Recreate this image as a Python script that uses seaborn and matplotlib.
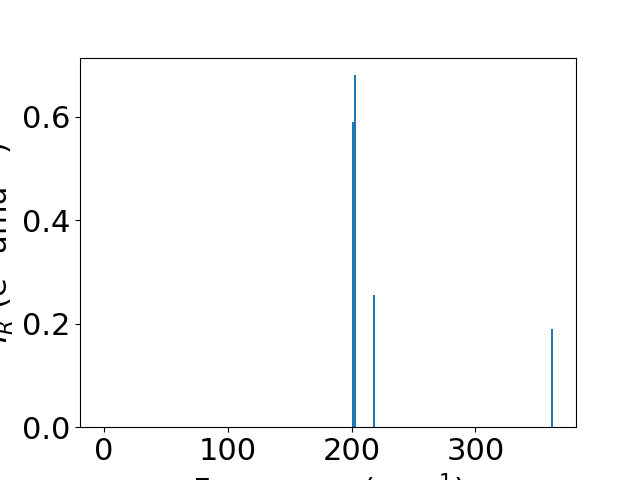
import numpy as np
import matplotlib
matplotlib.use("Agg")
import matplotlib.pyplot as plt
import seaborn as sns

# IR spectrum: frequencies (cm^-1) and intensities
freqs = [0, 201, 203, 218, 362]
intensities = [0.0, 0.59, 0.68, 0.255, 0.19]

plt.rcParams['font.size'] = 22
color = sns.color_palette()[0]

fig, ax = plt.subplots(figsize=(6.4, 4.8), dpi=100)
ax.bar(freqs, intensities, width=2, color=color)
ax.set_xlabel("Frequency (cm$^{-1}$)")
ax.set_ylabel("$I_R$ (e$^2$ amu$^{-1}$)")

fig.savefig("out.png", dpi=100)
